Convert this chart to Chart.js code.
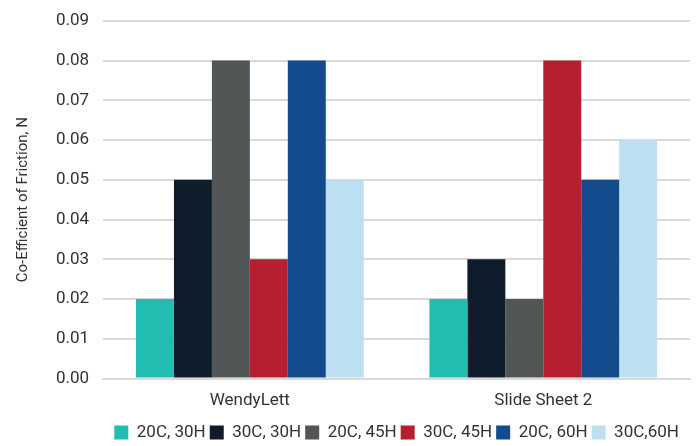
<!DOCTYPE html>
<html lang="en">
  <head>
    <meta charset="UTF-8" />
    <title>Co-Efficient of Friction</title>
    <script src="https://cdn.jsdelivr.net/npm/chart.js@4"></script>
    <style>
      html, body { margin: 0; padding: 0; background: #fff; }
      #wrap { width: 696px; height: 446px; }
    </style>
  </head>
  <body>
    <div id="wrap"><canvas id="frictionChart" width="696" height="446"></canvas></div>
  </body>
  <script>
    const categories = ["WendyLett", "Slide Sheet 2"];
    const seriesNames = ["20C, 30H", "30C, 30H", "20C, 45H", "30C, 45H", "20C, 60H", "30C,60H"];
    const s20c30h = [0.02, 0.02];
    const s30c30h = [0.05, 0.03];
    const s20c45h = [0.08, 0.02];
    const s30c45h = [0.03, 0.08];
    const s20c60h = [0.08, 0.05];
    const s30c60h = [0.05, 0.06];
    const colors = ["#21bdb0", "#0f1c2c", "#525657", "#b61f2f", "#134b8c", "#bddff2"];

    const fontFam = "'Roboto', sans-serif";
    const values = [s20c30h, s30c30h, s20c45h, s30c45h, s20c60h, s30c60h];

    // nudge the legend a little lower, like the original
    const legendNudge = {
      id: "legendNudge",
      afterLayout(chart) {
        chart.legend.top += 5;
        chart.legend.bottom += 5;
      },
    };

    const ctx = document.getElementById("frictionChart").getContext("2d");
    new Chart(ctx, {
      type: "bar",
      data: {
        labels: categories,
        datasets: seriesNames.map((name, i) => ({
          label: name,
          data: values[i],
          backgroundColor: colors[i],
          barPercentage: 1,
          categoryPercentage: 0.776,
        })),
      },
      options: {
        responsive: false,
        animation: false,
        layout: {padding: {top: 2, right: 6, left: 10, bottom: 0}},
        plugins: {
          legend: {
            position: "bottom",
            fullSize: false,
            labels: {
              boxWidth: 14,
              boxHeight: 14,
              padding: 4,
              color: "#333",
              font: {family: fontFam, size: 17},
            },
          },
          tooltip: {enabled: false},
        },
        scales: {
          x: {
            grid: {display: false},
            border: {color: "#d9d9d9", width: 2},
            ticks: {color: "#333", font: {family: fontFam, size: 17}, padding: 4},
          },
          y: {
            min: 0,
            max: 0.09,
            grid: {color: "#d9d9d9", lineWidth: 2, drawTicks: false},
            border: {display: false},
            ticks: {
              stepSize: 0.01,
              padding: 14,
              color: "#333",
              font: {family: fontFam, size: 17, lineHeight: 0.8},
              callback: (v) => v.toFixed(2),
            },
            title: {
              display: true,
              text: "Co-Efficient of Friction, N",
              color: "#333",
              font: {family: fontFam, size: 15},
              padding: {bottom: 10},
            },
          },
        },
      },
      plugins: [legendNudge],
    });
  </script>
</html>
